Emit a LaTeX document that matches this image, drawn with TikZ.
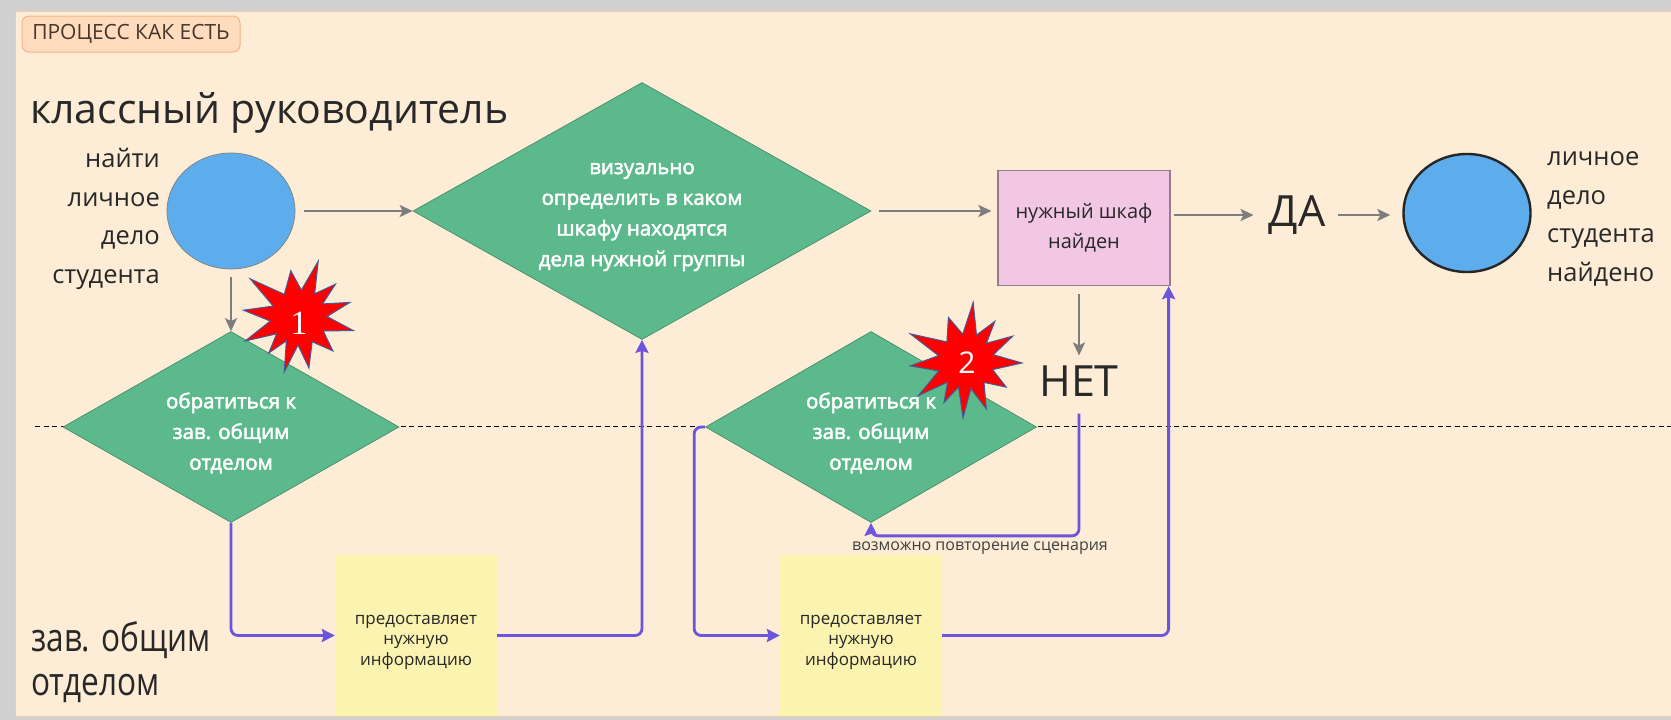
\documentclass[tikz,border=0pt]{standalone}
\usepackage{fontspec}
\setmainfont{Open Sans}
\newfontfamily\serifnum{Liberation Serif}
\newfontfamily\condfont[FakeStretch=0.81]{Open Sans}
\newfontfamily\semib[FakeBold=2.6]{Open Sans}
\usetikzlibrary{shapes.geometric,arrows.meta,calc}
\newcommand\setfs[2]{\fontsize{#1}{#2}\selectfont}
\definecolor{outergray}{RGB}{208,208,208}
\definecolor{peach}{RGB}{253,236,214}
\definecolor{peachb}{RGB}{240,205,170}
\definecolor{titlefill}{RGB}{255,220,190}
\definecolor{titledraw}{RGB}{247,180,135}
\definecolor{titletext}{RGB}{70,55,45}
\definecolor{cblue}{RGB}{93,173,236}
\definecolor{dgreen}{RGB}{91,185,139}
\definecolor{dgreenb}{RGB}{70,140,105}
\definecolor{pinkfill}{RGB}{242,199,228}
\definecolor{pinkdraw}{RGB}{150,125,140}
\definecolor{yfill}{RGB}{251,243,176}
\definecolor{arrgray}{RGB}{125,125,125}
\definecolor{purp}{RGB}{109,84,220}
\definecolor{txt}{RGB}{40,40,40}
\definecolor{starb}{RGB}{70,90,150}
\newcommand\drawburst[2]{%
  \filldraw[burst, shift={(#1)}, rotate=#2]
  (260:47) -- (275:27) -- (289:59) -- (304:28) -- (318:49) -- (331:27) -- (344:53) -- (359:28) -- (14:56) -- (30:28) -- (45:48) -- (62:28) -- (79:52) -- (92:28) -- (105:57) -- (118:27) -- (130:47) -- (143:28) -- (156:59) -- (172:29) -- (187:56) -- (203:28) -- (218:62) -- (237:27) -- cycle;}
\begin{document}
\begin{tikzpicture}[x=1pt,y=-1pt,
  dia/.style={diamond, fill=dgreen, draw=dgreenb, line width=0.7pt, inner sep=0pt},
  dtext/.style={text=white, align=center, inner sep=0pt, font=\semib\setfs{20.5}{30.7}},
  lbl/.style={text=txt, inner sep=0pt},
  ybox/.style={rectangle, fill=yfill, inner sep=0pt, minimum width=162pt, minimum height=161pt},
  ytext/.style={align=center, text=txt, inner sep=0pt, font=\setfs{17}{20.5}},
  grayarr/.style={draw=arrgray, line width=2.9pt, -{Stealth[length=13pt,width=12pt,inset=3pt]}},
  purparr/.style={draw=purp, line width=2.8pt, rounded corners=7pt, -{Stealth[length=13pt,width=13pt,inset=2pt]}},
  burst/.style={fill=red, draw=starb, line width=1pt, line join=miter},
  numtxt/.style={text=white, inner sep=0pt}
]
\useasboundingbox (0,0) rectangle (1671,720);
\fill[outergray] (0,0) rectangle (1671,720);
\filldraw[fill=peach, draw=peachb, line width=1pt] (15,11) rectangle (1675,716);

% lane separator
\draw[black, line width=1pt, dash pattern=on 5pt off 3.5pt] (35,426) -- (1671,426);

% title tag
\node[rectangle, rounded corners=7pt, fill=titlefill, draw=titledraw, line width=1pt,
  minimum width=218pt, minimum height=36pt, inner sep=0pt, text=titletext, font=\setfs{21}{23}] (tag) at (131,34) {ПРОЦЕСС КАК ЕСТЬ};

% lane titles
\node[lbl, anchor=base west, font=\setfs{41}{50}] (lane1) at (30,123) {классный руководитель};
\node[lbl, anchor=west, align=left, font=\condfont\setfs{39}{44}] (lane2) at (31,662) {зав. общим\\отделом};

% shapes
\node[ellipse, minimum width=128pt, minimum height=116pt, inner sep=0pt, fill=cblue, draw=gray, line width=0.7pt] (c1) at (231,211) {};
\node[lbl, anchor=east, align=right, font=\setfs{25.5}{38.5}] (lab1) at (160,219) {найти\\личное\\дело\\студента};

\node[dia, minimum width=458pt, minimum height=257pt] (d1) at (642,211) {};
\node[dtext] (d1t) at (642,217) {визуально\\определить в каком\\шкафу находятся\\дела нужной группы};

\node[rectangle, minimum width=172pt, minimum height=115pt, inner sep=0pt, fill=pinkfill, draw=pinkdraw, line width=1.2pt,
  align=center, text=txt, font=\setfs{20}{30}] (pk) at (1084,228) {нужный шкаф\\найден};

\node[lbl, font=\setfs{43}{45}] (da) at (1297,215) {ДА};
\node[ellipse, minimum width=127pt, minimum height=118pt, inner sep=0pt, fill=cblue, draw=black!85, line width=2.4pt] (e2) at (1467,213) {};
\node[lbl, anchor=west, align=left, font=\setfs{25.5}{38.5}] (lab2) at (1547,219) {личное\\дело\\студента\\найдено};

\node[lbl, font=\setfs{43}{45}] (net) at (1079,381) {НЕТ};

\node[dia, minimum width=336pt, minimum height=191pt] (d2) at (231,427) {};
\node[dtext] (d2t) at (231,433) {обратиться к\\зав. общим\\отделом};
\node[dia, minimum width=331pt, minimum height=191pt] (d3) at (871,427) {};
\node[dtext] (d3t) at (871,433) {обратиться к\\зав. общим\\отделом};

\node[ybox] (y1) at (416,635.5) {};
\node[ytext] (y1t) at (416,642) {предоставляет\\нужную\\информацию};
\node[ybox] (y2) at (861,635.5) {};
\node[ytext] (y2t) at (861,642) {предоставляет\\нужную\\информацию};

% gray connectors
\draw[grayarr, shorten <=9pt] (c1.east) -- (d1.west);
\draw[grayarr, shorten <=8pt] (c1.south) -- (d2.north);
\draw[grayarr, shorten <=8pt, shorten >=6pt] (d1.east) -- (d1.east -| pk.west);
\draw[grayarr, shorten <=3pt, shorten >=15pt] (da -| pk.east) -- (da.west);
\draw[grayarr, shorten <=12pt, shorten >=12pt] (da.east) -- (da.east -| e2.west);
\draw[grayarr, shorten <=8pt, shorten >=10pt] (pk.south -| net) -- (net.north);

% purple connectors
\draw[purparr] (d2.south) |- (y1.west);
\draw[purparr] (y1.east) -| (d1.south);
\draw[purparr] (d3.west) -- ++(-11,0) |- (y2.west);
\draw[purparr] (y2.east) -| ([xshift=-2pt]pk.south east);
\draw[purparr] ([yshift=-17pt]net.south) |- ($(d3.south)+(0,13)$) [sharp corners] -- (d3.south);
\node[lbl, text=black!75, font=\setfs{16}{18}] (rep) at (980,548) {возможно повторение сценария};

% bursts
\coordinate (s1) at (299,317);
\coordinate (s2) at (966,361);
\drawburst{s1}{0}
\drawburst{s2}{12}
\node[numtxt, font=\serifnum\setfs{34}{34}] (n1) at (299,323) {1};
\node[numtxt, font=\setfs{30}{30}] (n2) at (967,363) {2};
\end{tikzpicture}
\end{document}
